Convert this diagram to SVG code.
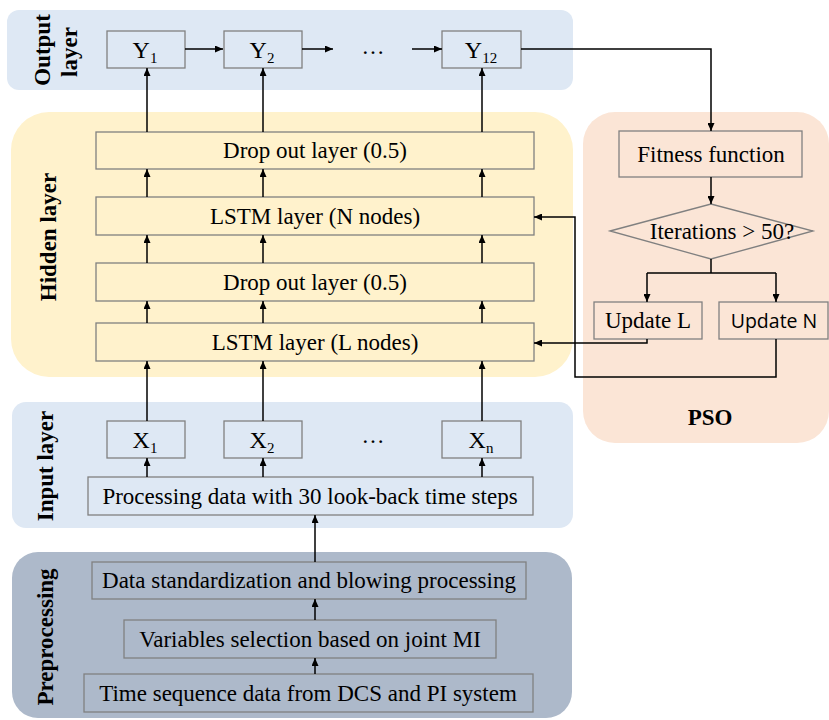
<svg xmlns="http://www.w3.org/2000/svg" width="829" height="720" viewBox="0 0 829 720">
<defs>
<marker id="ah" markerUnits="userSpaceOnUse" markerWidth="8" markerHeight="7" refX="8" refY="3.5" orient="auto">
<path d="M0,0 L8,3.5 L0,7 z" fill="#000"/>
</marker>
<style>
.box{fill:none;stroke:#808080;stroke-width:1.3}
.t{font-family:"Liberation Serif","Times New Roman",serif;font-size:23px;fill:#000;text-anchor:middle}
.lab{font-family:"Liberation Serif","Times New Roman",serif;font-size:23px;font-weight:bold;fill:#000;text-anchor:middle}
.sans{font-family:"Open Sans","Noto Sans",sans-serif;font-size:19.5px;fill:#000;text-anchor:middle}
.c{fill:none;stroke:#000;stroke-width:1.5}
.a{marker-end:url(#ah)}
</style>
</defs>
<rect width="829" height="720" fill="#fff"/>
<g id="panels">
<rect id="output-panel" x="7" y="10" width="566" height="80" rx="12" fill="#DEE8F4"/>
<rect id="hidden-panel" x="11" y="112" width="562" height="265" rx="38" fill="#FFF2CC"/>
<rect id="input-panel" x="12" y="402" width="561" height="126" rx="14" fill="#DEE8F4"/>
<rect id="pre-panel" x="12" y="552" width="560" height="166" rx="26" fill="#ADB9CA"/>
<rect id="pso-panel" x="583" y="112" width="246" height="331" rx="32" fill="#FBE5D6"/>
</g>
<g id="panel-labels">
<text class="lab" transform="translate(50,50) rotate(-90)">Output</text>
<text class="lab" transform="translate(77,52) rotate(-90)">layer</text>
<text class="lab" transform="translate(56,237) rotate(-90)">Hidden layer</text>
<text class="lab" transform="translate(53,466) rotate(-90)">Input layer</text>
<text class="lab" transform="translate(53,637) rotate(-90)">Preprocessing</text>
<text class="lab" x="710" y="425">PSO</text>
</g>
<g id="Y1"><rect class="box" x="107" y="31" width="78" height="37"/><text class="t" x="145" y="58" style="font-size:24px">Y<tspan dy="5" style="font-size:15px">1</tspan></text></g>
<g id="Y2"><rect class="box" x="224" y="31" width="78" height="37"/><text class="t" x="262" y="58" style="font-size:24px">Y<tspan dy="5" style="font-size:15px">2</tspan></text></g>
<g id="Y12"><rect class="box" x="442" y="31" width="79" height="37"/><text class="t" x="481" y="58" style="font-size:24px">Y<tspan dy="5" style="font-size:15px">12</tspan></text></g>
<g id="dots-y"><text class="t" x="373" y="54">…</text></g>
<g id="dropout2"><rect class="box" x="96" y="132" width="438" height="37"/><text class="t" x="315" y="158">Drop out layer (0.5)</text></g>
<g id="lstmN"><rect class="box" x="96" y="197" width="438" height="38"/><text class="t" x="315" y="224">LSTM layer (N nodes)</text></g>
<g id="dropout1"><rect class="box" x="96" y="263" width="438" height="38"/><text class="t" x="315" y="290">Drop out layer (0.5)</text></g>
<g id="lstmL"><rect class="box" x="96" y="323" width="438" height="38"/><text class="t" x="315" y="350">LSTM layer (L nodes)</text></g>
<g id="X1"><rect class="box" x="107" y="421" width="78" height="37"/><text class="t" x="145" y="448" style="font-size:24px">X<tspan dy="5" style="font-size:15px">1</tspan></text></g>
<g id="X2"><rect class="box" x="224" y="421" width="78" height="37"/><text class="t" x="262" y="448" style="font-size:24px">X<tspan dy="5" style="font-size:15px">2</tspan></text></g>
<g id="Xn"><rect class="box" x="442" y="421" width="79" height="37"/><text class="t" x="481" y="448" style="font-size:24px">X<tspan dy="5" style="font-size:15px">n</tspan></text></g>
<g id="dots-x"><text class="t" x="373" y="443">…</text></g>
<g id="processing"><rect class="box" x="88" y="477" width="445" height="38"/><text class="t" x="310" y="504">Processing data with 30 look-back time steps</text></g>
<g id="standardization"><rect class="box" x="92" y="562" width="434" height="37"/><text class="t" x="309" y="588">Data standardization and blowing processing</text></g>
<g id="selection"><rect class="box" x="124" y="620" width="372" height="38"/><text class="t" x="310" y="647">Variables selection based on joint MI</text></g>
<g id="timeseq"><rect class="box" x="84" y="674" width="449" height="38"/><text class="t" x="308" y="701">Time sequence data from DCS and PI system</text></g>
<g id="fitness"><rect class="box" x="619" y="131" width="183" height="46"/><text class="t" x="711" y="162">Fitness function</text></g>
<g id="iterations"><polygon class="box" points="610,231 711,204 813,231 711,259"/><text class="t" x="722" y="239">Iterations &gt; 50?</text></g>
<g id="updateL"><rect class="box" x="594" y="302" width="108" height="37"/><text class="t" x="648" y="328">Update L</text></g>
<g id="updateN"><rect class="box" x="719" y="302" width="109" height="37"/><text class="sans" x="774" y="328">Update N</text></g>
<g id="connectors">
<path class="c a" d="M185,49 H223"/>
<path class="c a" d="M302,49 H333"/>
<path class="c a" d="M412,49 H442"/>
<path class="c a" d="M521,49 H711 V131"/>
<path class="c a" d="M147,132 V68"/><path class="c a" d="M263,132 V68"/><path class="c a" d="M482,132 V68"/>
<path class="c a" d="M147,197 V169"/><path class="c a" d="M263,197 V169"/><path class="c a" d="M482,197 V169"/>
<path class="c a" d="M147,263 V235"/><path class="c a" d="M263,263 V235"/><path class="c a" d="M482,263 V235"/>
<path class="c a" d="M147,323 V301"/><path class="c a" d="M263,323 V301"/><path class="c a" d="M482,323 V301"/>
<path class="c a" d="M147,421 V361"/><path class="c a" d="M263,421 V361"/><path class="c a" d="M482,421 V361"/>
<path class="c a" d="M147,477 V458"/><path class="c a" d="M263,477 V458"/><path class="c a" d="M482,477 V458"/>
<path class="c a" d="M315,562 V515"/>
<path class="c a" d="M315,620 V599"/>
<path class="c a" d="M315,674 V658"/>
<path class="c a" d="M711,177 V204"/>
<path class="c" d="M711,259 V273 M647,273 H776"/>
<path class="c a" d="M647,273 V302"/>
<path class="c a" d="M776,273 V302"/>
<path class="c a" d="M647,339 V343 H534"/>
<path class="c a" d="M776,339 V377 H575 V217 H534"/>
</g>
</svg>
